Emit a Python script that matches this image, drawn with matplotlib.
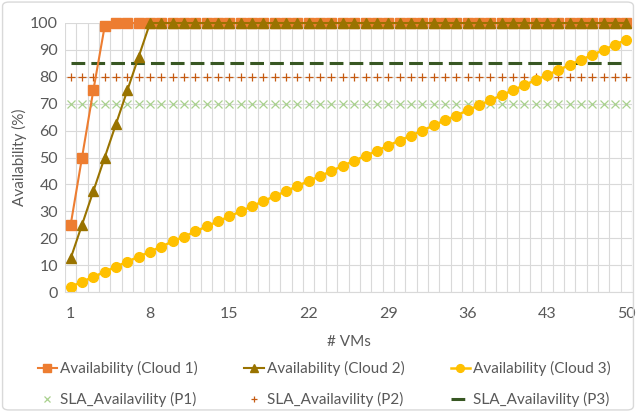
import matplotlib
matplotlib.use("Agg")
import matplotlib.pyplot as plt
from matplotlib.patches import FancyBboxPatch
import numpy as np

vms = list(range(1, 51))
cloud1 = [25, 50, 75, 98.8] + [100] * 46
cloud2 = [12.5, 25, 37.5, 50, 62.5, 75, 87.5] + [100] * 43
cloud3 = [1.9, 3.8, 5.6, 7.5, 9.4, 11.3, 13.1, 15.0, 16.9, 18.8,
          20.6, 22.5, 24.4, 26.3, 28.1, 30.0, 31.9, 33.8, 35.6, 37.5,
          39.4, 41.3, 43.1, 45.0, 46.9, 48.8, 50.6, 52.5, 54.4, 56.3,
          58.1, 60.0, 61.9, 63.8, 65.6, 67.5, 69.4, 71.3, 73.1, 75.0,
          76.9, 78.8, 80.6, 82.5, 84.4, 86.3, 88.1, 90.0, 91.9, 93.8]
sla_p1 = [70] * 50
sla_p2 = [80] * 50
sla_p3 = [85] * 50
xtick_labels = [1, 8, 15, 22, 29, 36, 43, 50]
ytick_labels = list(range(0, 101, 10))

plt.rcParams['font.family'] = ['Lato', 'DejaVu Sans']
txt = '#595959'

fig = plt.figure(figsize=(6.36, 4.12), dpi=100)
ax = fig.add_axes([65/636, (412-292)/412, (632-65)/636, (292-23)/412])

h_p1, = ax.plot(vms, sla_p1, linestyle='none', marker='x', color='#A9D18E',
                markersize=6, markeredgewidth=0.9, label='SLA_Availavility (P1)')
h_p2, = ax.plot(vms, sla_p2, linestyle='none', marker='+', color='#C55A11',
                markersize=6, markeredgewidth=0.9, label='SLA_Availavility (P2)')
h_p3, = ax.plot(vms, sla_p3, linestyle=(0, (4.5, 2)), color='#385723',
                linewidth=2.2, label='SLA_Availavility (P3)')
h_c3, = ax.plot(vms, cloud3, color='#FFC000', marker='o', markersize=7,
                linewidth=1.8, label='Availability (Cloud 3)', clip_on=False)
h_c1, = ax.plot(vms, cloud1, color='#ED7D31', marker='s', markersize=6.5,
                linewidth=1.5, label='Availability (Cloud 1)', clip_on=False)
h_c2, = ax.plot(vms, cloud2, color='#997300', marker='^', markersize=6.5,
                linewidth=1.5, label='Availability (Cloud 2)', clip_on=False)

ax.set_xlim(0.5, 50.5)
ax.set_ylim(0, 100)
ax.set_xticks(xtick_labels)
ax.set_xticklabels([str(v) for v in xtick_labels])
ax.set_xticks(np.arange(0.5, 51, 1), minor=True)
ax.set_yticks(ytick_labels)
ax.grid(True, which='minor', axis='x', color='#d9d9d9', linewidth=0.8)
ax.grid(True, which='major', axis='y', color='#d9d9d9', linewidth=0.8)
ax.set_axisbelow(True)
ax.tick_params(which='both', length=0, colors=txt, labelsize=11.5)
ax.tick_params(axis='x', pad=11)
ax.tick_params(axis='y', pad=5)
for s in ['top', 'right', 'left']:
    ax.spines[s].set_visible(False)
ax.spines['bottom'].set_color('#d9d9d9')
ax.set_xlabel('# VMs', color=txt, fontsize=11, labelpad=10)
ax.set_ylabel('Availability (%)', color=txt, fontsize=11, labelpad=2)

handles = [h_c1, h_p1, h_c2, h_p2, h_c3, h_p3]
leg = fig.legend(handles=handles, labels=[h.get_label() for h in handles],
                 ncol=3, loc='lower center', bbox_to_anchor=(0.51, -0.022),
                 frameon=False, fontsize=11, handlelength=1.3,
                 handletextpad=0.2, columnspacing=3.0, labelspacing=1.05,
                 markerscale=0.8)
for t in leg.get_texts():
    t.set_color(txt)

border = FancyBboxPatch((0.004, 0.005), 0.992, 0.99,
                        boxstyle='round,pad=0,rounding_size=0.01',
                        transform=fig.transFigure, fill=False,
                        edgecolor='#d9d9d9', linewidth=1.0)
fig.patches.append(border)

fig.savefig('out.png', dpi=100)
